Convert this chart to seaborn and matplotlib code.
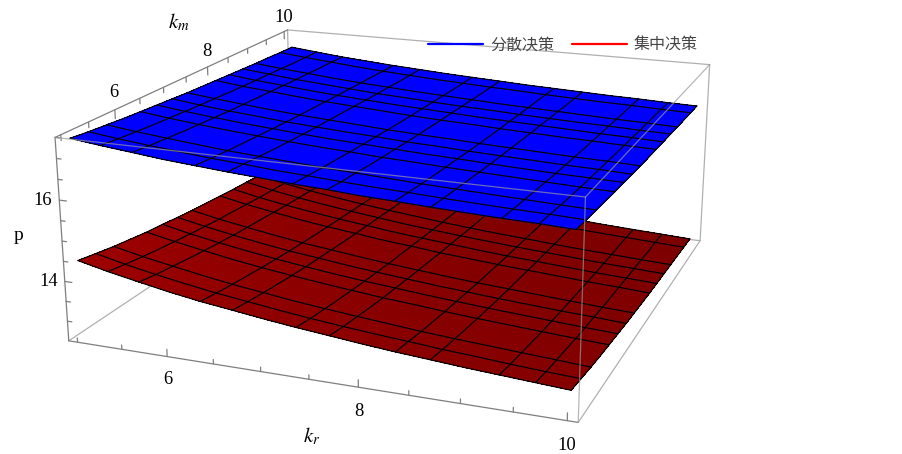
import numpy as np
import matplotlib
matplotlib.use('Agg')
import matplotlib.pyplot as plt
from matplotlib.colors import LinearSegmentedColormap
import seaborn as sns

sns.set_theme(style='white')
plt.rcParams['font.family'] = ['Liberation Serif', 'Noto Sans CJK SC', 'DejaVu Sans']
plt.rcParams['mathtext.fontset'] = 'stix'

kr_vals = [5, 5.33, 5.67, 6, 6.33, 6.67, 7, 7.33, 7.67, 8, 8.33, 8.67, 9, 9.33, 9.67, 10]
km_vals = [5, 5.33, 5.67, 6, 6.33, 6.67, 7, 7.33, 7.67, 8, 8.33, 8.67, 9, 9.33, 9.67, 10]

# rows are km, columns are kr
p_blue = [
    [17.44, 17.35, 17.27, 17.19, 17.13, 17.07, 17.02, 16.97, 16.93, 16.88, 16.85, 16.81, 16.78, 16.75, 16.73, 16.70],
    [17.39, 17.30, 17.22, 17.15, 17.08, 17.03, 16.97, 16.93, 16.88, 16.84, 16.81, 16.77, 16.74, 16.71, 16.69, 16.66],
    [17.35, 17.26, 17.18, 17.11, 17.04, 16.99, 16.94, 16.89, 16.85, 16.81, 16.77, 16.74, 16.71, 16.68, 16.65, 16.63],
    [17.31, 17.22, 17.14, 17.07, 17.01, 16.95, 16.90, 16.86, 16.81, 16.77, 16.74, 16.71, 16.68, 16.65, 16.62, 16.60],
    [17.28, 17.19, 17.11, 17.04, 16.98, 16.92, 16.87, 16.83, 16.78, 16.75, 16.71, 16.68, 16.65, 16.62, 16.59, 16.57],
    [17.25, 17.16, 17.08, 17.01, 16.95, 16.89, 16.84, 16.80, 16.76, 16.72, 16.69, 16.65, 16.62, 16.59, 16.57, 16.55],
    [17.22, 17.13, 17.05, 16.99, 16.92, 16.87, 16.82, 16.78, 16.73, 16.70, 16.66, 16.63, 16.60, 16.57, 16.55, 16.52],
    [17.19, 17.11, 17.03, 16.96, 16.90, 16.85, 16.80, 16.75, 16.71, 16.68, 16.64, 16.61, 16.58, 16.55, 16.53, 16.50],
    [17.17, 17.08, 17.01, 16.94, 16.88, 16.83, 16.78, 16.73, 16.69, 16.66, 16.62, 16.59, 16.56, 16.53, 16.51, 16.48],
    [17.15, 17.06, 16.99, 16.92, 16.86, 16.81, 16.76, 16.71, 16.67, 16.64, 16.60, 16.57, 16.54, 16.52, 16.49, 16.47],
    [17.13, 17.04, 16.97, 16.90, 16.84, 16.79, 16.74, 16.70, 16.66, 16.62, 16.59, 16.56, 16.53, 16.50, 16.48, 16.45],
    [17.11, 17.03, 16.95, 16.89, 16.83, 16.77, 16.73, 16.68, 16.64, 16.61, 16.57, 16.54, 16.51, 16.49, 16.46, 16.44],
    [17.09, 17.01, 16.94, 16.87, 16.81, 16.76, 16.71, 16.67, 16.63, 16.59, 16.56, 16.53, 16.50, 16.47, 16.45, 16.42],
    [17.08, 16.99, 16.92, 16.86, 16.80, 16.74, 16.70, 16.65, 16.61, 16.58, 16.55, 16.51, 16.49, 16.46, 16.44, 16.41],
    [17.06, 16.98, 16.91, 16.84, 16.78, 16.73, 16.68, 16.64, 16.60, 16.57, 16.53, 16.50, 16.47, 16.45, 16.42, 16.40],
    [17.05, 16.97, 16.89, 16.83, 16.77, 16.72, 16.67, 16.63, 16.59, 16.55, 16.52, 16.49, 16.46, 16.44, 16.41, 16.39],
]
p_red = [
    [14.47, 14.30, 14.15, 14.01, 13.89, 13.79, 13.69, 13.60, 13.52, 13.44, 13.37, 13.31, 13.25, 13.20, 13.15, 13.10],
    [14.38, 14.21, 14.06, 13.93, 13.81, 13.71, 13.61, 13.52, 13.44, 13.37, 13.31, 13.24, 13.19, 13.13, 13.08, 13.04],
    [14.29, 14.13, 13.99, 13.86, 13.74, 13.64, 13.54, 13.46, 13.38, 13.31, 13.24, 13.18, 13.13, 13.08, 13.03, 12.98],
    [14.22, 14.06, 13.92, 13.79, 13.68, 13.58, 13.48, 13.40, 13.32, 13.25, 13.19, 13.13, 13.08, 13.03, 12.98, 12.93],
    [14.15, 14.00, 13.86, 13.73, 13.62, 13.52, 13.43, 13.35, 13.27, 13.21, 13.14, 13.08, 13.03, 12.98, 12.93, 12.89],
    [14.10, 13.94, 13.80, 13.68, 13.57, 13.47, 13.38, 13.30, 13.23, 13.16, 13.10, 13.04, 12.99, 12.94, 12.89, 12.85],
    [14.04, 13.89, 13.75, 13.63, 13.52, 13.43, 13.34, 13.26, 13.19, 13.12, 13.06, 13.00, 12.95, 12.90, 12.86, 12.81],
    [13.99, 13.84, 13.71, 13.59, 13.48, 13.39, 13.30, 13.22, 13.15, 13.08, 13.02, 12.97, 12.92, 12.87, 12.82, 12.78],
    [13.95, 13.80, 13.67, 13.55, 13.44, 13.35, 13.26, 13.19, 13.12, 13.05, 12.99, 12.94, 12.89, 12.84, 12.79, 12.75],
    [13.91, 13.76, 13.63, 13.51, 13.41, 13.32, 13.23, 13.16, 13.08, 13.02, 12.96, 12.91, 12.86, 12.81, 12.77, 12.72],
    [13.87, 13.72, 13.59, 13.48, 13.38, 13.29, 13.20, 13.13, 13.06, 12.99, 12.93, 12.88, 12.83, 12.78, 12.74, 12.70],
    [13.84, 13.69, 13.56, 13.45, 13.35, 13.26, 13.17, 13.10, 13.03, 12.97, 12.91, 12.86, 12.81, 12.76, 12.72, 12.68],
    [13.80, 13.66, 13.53, 13.42, 13.32, 13.23, 13.15, 13.07, 13.00, 12.94, 12.89, 12.83, 12.78, 12.74, 12.70, 12.66],
    [13.77, 13.63, 13.51, 13.39, 13.29, 13.20, 13.12, 13.05, 12.98, 12.92, 12.86, 12.81, 12.76, 12.72, 12.67, 12.64],
    [13.75, 13.60, 13.48, 13.37, 13.27, 13.18, 13.10, 13.03, 12.96, 12.90, 12.84, 12.79, 12.74, 12.70, 12.66, 12.62],
    [13.72, 13.58, 13.46, 13.35, 13.25, 13.16, 13.08, 13.01, 12.94, 12.88, 12.82, 12.77, 12.72, 12.68, 12.64, 12.60],
]

kr_lim = (4.9, 10.1)
km_lim = (4.9, 10.1)
p_lim = (12.5, 17.5)
kr_major = [6, 8, 10]
kr_minor = [5, 5.5, 6.5, 7, 7.5, 8.5, 9, 9.5]
km_major = [6, 8, 10]
km_minor = [5, 5.5, 6.5, 7, 7.5, 8.5, 9, 9.5]
p_major = [14, 16]
p_minor = [13, 13.5, 14.5, 15, 15.5, 16.5, 17, 17.5]

# mesh lines that show up in the picture
kr_mesh = [0, 1, 2, 4, 5, 7, 8, 10, 11, 13, 14, 15]
km_mesh = [0, 1, 2, 4, 5, 6, 7, 9, 10, 11, 12, 14, 15]

fig = plt.figure(figsize=(9.03, 4.54), dpi=100)
ax = fig.add_axes([47.3/903, -102/454, 704.7/903, 704.7/454], projection='3d')
ax.computed_zorder = False
ax.view_init(17.65, -68.85, 0.07)
ax.set_proj_type('persp', focal_length=0.441)
ax.set_box_aspect((1, 1, 0.401))
ax.set_axis_off()

X, Y = np.meshgrid(kr_vals, km_vals)
Z_blue = np.array(p_blue)
Z_red = np.array(p_red)
red_map = LinearSegmentedColormap.from_list('reds', ['#7d0000', '#9c0000'])
ax.plot_surface(X, Y, Z_red, rstride=1, cstride=1, cmap=red_map, linewidth=0, antialiased=False, shade=False, zorder=3)
ax.plot_surface(X, Y, Z_blue, rstride=1, cstride=1, color='#0000ff', linewidth=0, antialiased=False, shade=False, zorder=5)


def draw_mesh(Z, z):
    for i in kr_mesh:
        ax.plot(X[:, i], Y[:, i], Z[:, i], color='black', lw=0.85, zorder=z)
    for j in km_mesh:
        ax.plot(X[j, :], Y[j, :], Z[j, :], color='black', lw=0.85, zorder=z)


draw_mesh(Z_red, 4)
draw_mesh(Z_blue, 6)

x0, x1 = kr_lim
y0, y1 = km_lim
z0, z1 = p_lim
dark = '#7f7f7f'
light = '#b0b0b0'


def edge(a, b, col, z, alpha=1):
    ax.plot([a[0], b[0]], [a[1], b[1]], [a[2], b[2]], color=col, lw=0.9, zorder=z, alpha=alpha)


# hidden side of the box first
edge((x0, y0, z0), (x0, y1, z0), light, 1)
edge((x0, y1, z0), (x1, y1, z0), light, 1)
edge((x0, y1, z0), (x0, y1, z1), light, 1)
edge((x0, y1, z1), (x1, y1, z1), light, 1)
edge((x1, y1, z0), (x1, y1, z1), light, 1)
edge((x1, y0, z0), (x1, y1, z0), light, 1)
# front side
edge((x0, y0, z0), (x1, y0, z0), dark, 7)
edge((x0, y0, z0), (x0, y0, z1), dark, 7)
edge((x0, y0, z1), (x0, y1, z1), dark, 7)
edge((x0, y0, z1), (x1, y0, z1), '#999999', 7, 0.7)
edge((x1, y0, z1), (x1, y1, z1), '#999999', 7, 0.7)
edge((x1, y0, z0), (x1, y0, z1), '#999999', 7, 0.7)

for t, n in [(kr_major, 0.18), (kr_minor, 0.11)]:
    for v in t:
        ax.plot([v, v], [y0, y0], [z0, z0+n], color=dark, lw=0.9, zorder=1)
for t, n in [(km_major, 0.22), (km_minor, 0.14)]:
    for v in t:
        ax.plot([x0, x0], [v, v], [z1, z1-n], color=dark, lw=0.9, zorder=1)
for t, n in [(p_major, 0.08), (p_minor, 0.05)]:
    for v in t:
        ax.plot([x0, x0+n], [y0, y0], [v, v], color=dark, lw=0.9, zorder=1)

fs = 13.3
for v in kr_major:
    ax.text(v, y0, z0-0.58, str(v), ha='center', va='center', fontsize=fs, color='black')
for v in km_major:
    ax.text(x0, v, z1+0.43, str(v), ha='center', va='center', fontsize=fs, color='black')
for v in p_major:
    ax.text(x0-0.19, y0, v-0.07, str(v), ha='center', va='center', fontsize=fs, color='black')
ax.text(7.52, y0, z0-1.4, r'$k_r$', ha='center', va='center', fontsize=15, color='black')
ax.text(x0, 7.4, z1+1.5, r'$k_m$', ha='center', va='center', fontsize=15, color='black')
ax.text(x0-0.5, y0, 14.98, 'p', ha='center', va='center', fontsize=14, color='black')

l1, = ax.plot([], [], [], color='#0000ff', lw=1.6, label='分散决策')
l2, = ax.plot([], [], [], color='#ff0000', lw=1.6, label='集中决策')
ax.set_xlim(*kr_lim)
ax.set_ylim(*km_lim)
ax.set_zlim(*p_lim)
fig.legend(handles=[l1, l2], loc='center left', bbox_to_anchor=(414/903, 1-45/454), ncol=2, frameon=False,
           handlelength=3.4, handletextpad=0.45, columnspacing=1.15, labelcolor='#444444',
           prop={'family': ['Noto Sans CJK SC'], 'size': 11.5})
fig.savefig('out.png', dpi=100)
